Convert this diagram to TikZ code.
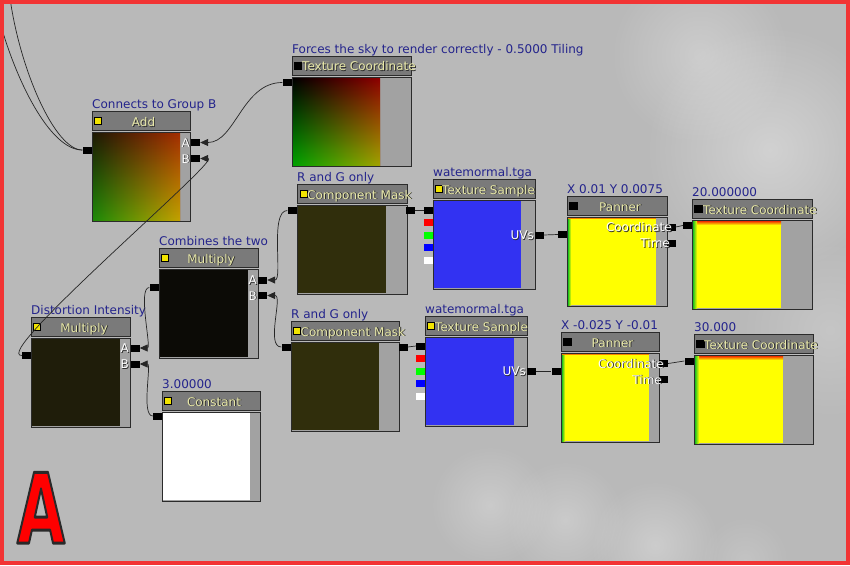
\documentclass[tikz,border=0pt]{standalone}
\usepackage{fontspec}
\usepackage{graphicx}
\setmainfont{DejaVu Sans}
\usetikzlibrary{arrows.meta,fadings,calc}
\definecolor{bg}{HTML}{B9B9B9}
\definecolor{framec}{HTML}{F23434}
\definecolor{edge}{HTML}{2B2B2B}
\definecolor{hdrc}{HTML}{7A7A7A}
\definecolor{strip}{HTML}{A2A2A2}
\definecolor{ttlc}{HTML}{24248C}
\definecolor{hdrt}{HTML}{E8E8A8}
\definecolor{ylw}{HTML}{F2E400}
\definecolor{olive}{HTML}{302E0C}
\definecolor{blkA}{HTML}{0C0B06}
\definecolor{blkB}{HTML}{1F1D0A}
\definecolor{tblue}{HTML}{3232F2}
\definecolor{addTL}{HTML}{1E1A04}
\definecolor{addTR}{HTML}{A42E02}
\definecolor{addBL}{HTML}{1E8A08}
\definecolor{addBR}{HTML}{C4A200}
\definecolor{tcTR}{HTML}{8E0000}
\definecolor{tcBL}{HTML}{00A200}
\definecolor{tcBR}{HTML}{A2A200}
\definecolor{pyel}{HTML}{FFFF00}
\definecolor{pgrn}{HTML}{20C020}
\definecolor{pred}{HTML}{F03000}
\definecolor{dk}{HTML}{2A2A2A}

\tikzfading[name=fadebot, top color=transparent!100, bottom color=transparent!0]
\tikzfading[name=blobfade, inner color=transparent!0, outer color=transparent!100]

\tikzset{
  every node/.style={font=\fontsize{12}{14}\selectfont},
  hdr/.style={draw=edge, fill=hdrc, line width=0.8pt, inner sep=0pt, minimum height=19pt, anchor=north west},
  bodyb/.style={draw=edge, fill=strip, line width=0.8pt, inner sep=0pt, minimum height=89pt, anchor=north west},
  ttl/.style={text=ttlc, inner sep=0pt, anchor=base west},
  sq/.style={draw=black, line width=0.5pt, minimum size=7.5pt, inner sep=0pt},
  port/.style={fill=black, minimum width=9pt, minimum height=7pt, inner sep=0pt},
  chan/.style={minimum width=9pt, minimum height=7pt, inner sep=0pt},
  lbltxt/.style={inner sep=0pt},
  wire/.style={draw=black!85, line width=0.7pt},
  arr/.style={wire, -{Triangle[length=8pt,width=7pt]}},
  blob/.style={fill=white, path fading=blobfade},
  bigA/.style={inner sep=0pt, anchor=base, font=\fontsize{97}{97}\selectfont\bfseries},
}

% #1 name, #2 x, #3 header top y, #4 width, #5 title, #6 square colour, #7 square x offset
\newcommand\uebox[7]{%
  \node[hdr, minimum width=#4pt] (#1-h) at (#2,#3) {};
  \node[bodyb, minimum width=#4pt] (#1-b) at (#2,#3+21) {};
  \node[ttl] (#1-t) at (#2,#3-2.5) {#5};
  \node[sq, fill=#6] (#1-s) at (#2+#7,#3+9.5) {};
}
% #1 name, #2 position, #3 anchor, #4 colour, #5 shadow colour, #6 text
\newcommand\shlbl[6]{%
  \node[lbltxt, anchor=#3, text=#5] (#1-sh) at ($#2+(0.9,0.9)$) {#6};
  \node[lbltxt, anchor=#3, text=#4] (#1) at #2 {#6};
}

\begin{document}
\begin{tikzpicture}[x=1pt, y=-1pt]
\useasboundingbox (0,0) rectangle (850,565);
\fill[bg] (0,0) rectangle (850,565);

% soft background shapes
\path[blob, opacity=0.35] (770,150) circle (125);
\path[blob, opacity=0.28] (700,55) circle (90);
\path[blob, opacity=0.18] (830,330) circle (90);
\path[blob, opacity=0.25] (490,505) circle (60);
\path[blob, opacity=0.25] (565,520) circle (60);
\path[blob, opacity=0.28] (655,545) circle (65);
\path[blob, opacity=0.15] (745,560) circle (45);

% node boxes
\uebox{add}{92}{111}{98}{Connects to Group B}{ylw}{5.5}
\uebox{tcT}{292}{56}{119}{Forces the sky to render correctly - 0.5000 Tiling}{black}{5.5}
\uebox{cmA}{297}{184}{110}{R and G only}{ylw}{6.5}
\uebox{tsA}{433}{179}{102}{watemormal.tga}{ylw}{5.5}
\uebox{pnA}{567}{196}{100}{X 0.01 Y 0.0075}{black}{6}
\uebox{tcA}{692}{199}{120}{20.000000}{black}{6}
\uebox{comb}{159}{248}{99}{Combines the two}{ylw}{5.5}
\uebox{dist}{31}{317}{99}{Distortion Intensity}{ylw}{5.5}
\uebox{cst}{162}{391}{98}{3.00000}{ylw}{5.5}
\uebox{cmB}{291}{321}{108}{R and G only}{ylw}{5.5}
\uebox{tsB}{425}{316}{102}{watemormal.tga}{ylw}{5.5}
\uebox{pnB}{561}{332}{98}{X -0.025 Y -0.01}{black}{6}
\uebox{tcB}{694}{334}{119}{30.000}{black}{6}

% previews
\shade[left color=addTL, right color=addTR] (93,133) rectangle (180,220);
\shade[left color=addBL, right color=addBR, path fading=fadebot] (93,133) rectangle (180,220);
\shade[left color=black, right color=tcTR] (293,78) rectangle (380,165);
\shade[left color=tcBL, right color=tcBR, path fading=fadebot] (293,78) rectangle (380,165);
\fill[olive] (298,206) rectangle (386,293);
\fill[tblue] (434,201) rectangle (521,288);
\fill[pyel] (568,218) rectangle (656,305);
\shade[left color=pgrn, right color=pyel] (568,218) rectangle (571,305);
\fill[pred!60!pyel] (568,218) rectangle (656,219.2);
\fill[pyel] (693,221) rectangle (781,308);
\shade[top color=pred, bottom color=pyel] (693,221) rectangle (781,225);
\shade[left color=pgrn, right color=pyel] (693,221) rectangle (697,308);
\fill[blkA] (160,270) rectangle (248,357);
\fill[blkB] (32,339) rectangle (120,426);
\fill[white] (163,413) rectangle (250,500);
\fill[olive] (292,343) rectangle (379,430);
\fill[tblue] (426,338) rectangle (514,425);
\fill[pyel] (562,354) rectangle (649,441);
\shade[left color=pgrn, right color=pyel] (562,354) rectangle (565,441);
\fill[pred!60!pyel] (562,354) rectangle (649,355.2);
\fill[pyel] (695,356) rectangle (783,443);
\shade[top color=pred, bottom color=pyel] (695,356) rectangle (783,360);
\shade[left color=pgrn, right color=pyel] (695,356) rectangle (699,443);

% header labels
\shlbl{addL}{(143.5,126.5)}{base}{hdrt}{dk}{Add}
\shlbl{tcTL}{(302,70.5)}{base west}{hdrt}{dk}{Texture Coordinate}
\shlbl{cmAL}{(307,199)}{base west}{hdrt}{dk}{Component Mask}
\shlbl{tsAL}{(442,194)}{base west}{hdrt}{dk}{Texture Sample}
\shlbl{pnAL}{(620,211)}{base}{hdrt}{dk}{Panner}
\shlbl{tcAL}{(703,214)}{base west}{hdrt}{dk}{Texture Coordinate}
\shlbl{combL}{(211,263)}{base}{hdrt}{dk}{Multiply}
\shlbl{distL}{(84,332)}{base}{hdrt}{dk}{Multiply}
\shlbl{cstL}{(214,406)}{base}{hdrt}{dk}{Constant}
\shlbl{cmBL}{(300.5,336)}{base west}{hdrt}{dk}{Component Mask}
\shlbl{tsBL}{(435,331)}{base west}{hdrt}{dk}{Texture Sample}
\shlbl{pnBL}{(612.5,347)}{base}{hdrt}{dk}{Panner}
\shlbl{tcBL}{(704,349)}{base west}{hdrt}{dk}{Texture Coordinate}

% ports
\node[port] (add-in) at (87,150) {};
\node[port] (add-A) at (195.5,142.5) {};
\node[port] (add-B) at (195.5,158.5) {};
\node[port] (tcT-in) at (287,82.5) {};
\node[port] (cmA-in) at (292,210.5) {};
\node[port] (cmA-out) at (410.5,210.5) {};
\node[port] (tsA-in) at (428.5,210.5) {};
\node[chan, fill=red] (tsA-r) at (428.5,222.5) {};
\node[chan, fill=green] (tsA-g) at (428.5,235) {};
\node[chan, fill=blue] (tsA-bl) at (428.5,247.5) {};
\node[chan, fill=white] (tsA-w) at (428.5,260) {};
\node[port] (tsA-uv) at (539,235) {};
\node[port] (pnA-in) at (562.5,234.5) {};
\node[port] (pnA-co) at (671,227) {};
\node[port] (pnA-ti) at (671,243) {};
\node[port] (tcA-in) at (687.5,225.5) {};
\node[port] (comb-in) at (154,287.5) {};
\node[port] (comb-A) at (262.5,280) {};
\node[port] (comb-B) at (262.5,295.5) {};
\node[port] (dist-in) at (26.5,355.5) {};
\node[port] (dist-A) at (135,348) {};
\node[port] (dist-B) at (135,364) {};
\node[port] (cst-in) at (157.5,416) {};
\node[port] (cmB-in) at (286,347) {};
\node[port] (cmB-out) at (403,347) {};
\node[port] (tsB-in) at (420.5,346) {};
\node[chan, fill=red] (tsB-r) at (420.5,358.5) {};
\node[chan, fill=green] (tsB-g) at (420.5,371) {};
\node[chan, fill=blue] (tsB-bl) at (420.5,383.5) {};
\node[chan, fill=white] (tsB-w) at (420.5,396) {};
\node[port] (tsB-uv) at (531,371) {};
\node[port] (pnB-in) at (556,371) {};
\node[port] (pnB-co) at (663.5,363.5) {};
\node[port] (pnB-ti) at (663.5,379.5) {};
\node[port] (tcB-in) at (689,361) {};

% port labels
\shlbl{addAL}{(190,147)}{base east}{white}{dk}{A}
\shlbl{addBL}{(190,163)}{base east}{white}{dk}{B}
\shlbl{combAL}{(257,284.5)}{base east}{white}{dk}{A}
\shlbl{combBL}{(257,300)}{base east}{white}{dk}{B}
\shlbl{distAL}{(129,352.5)}{base east}{white}{dk}{A}
\shlbl{distBL}{(129,368.5)}{base east}{white}{dk}{B}
\shlbl{tsAuvL}{(534,239.5)}{base east}{white}{dk}{UVs}
\shlbl{tsBuvL}{(526,375.5)}{base east}{white}{dk}{UVs}
\shlbl{pnAcoL}{(672,231.5)}{base east}{white}{dk}{Coordinate}
\shlbl{pnAtiL}{(670,247.5)}{base east}{white}{dk}{Time}
\shlbl{pnBcoL}{(664,368)}{base east}{white}{dk}{Coordinate}
\shlbl{pnBtiL}{(662,384)}{base east}{white}{dk}{Time}

% wires
\coordinate (offA) at (10,-2);
\coordinate (offB) at (-2,15);
\draw[wire] (add-in.west) .. controls (55,150) and (20,70) .. (offA);
\draw[wire] (add-in.west) .. controls (50,150) and (15,80) .. (offB);
\draw[arr] (tcT-in.west) .. controls +(-40,0) and +(35,0) .. (add-A.east);
\draw[arr] (dist-in.west) .. controls +(-32,0) and +(22,0) .. (add-B.east);
\draw[arr] (cmA-in.west) .. controls +(-18,0) and +(16,0) .. (comb-A.east);
\draw[arr] (cmB-in.west) .. controls +(-16,0) and +(16,0) .. (comb-B.east);
\draw[arr] (comb-in.west) .. controls +(-12,0) and +(12,0) .. (dist-A.east);
\draw[arr] (cst-in.west) .. controls +(-12,0) and +(12,0) .. (dist-B.east);
\draw[wire] (cmA-out.east) -- (tsA-in.west);
\draw[wire] (cmB-out.east) -- (tsB-in.west);
\draw[wire] (tsA-uv.east) -- (pnA-in.west);
\draw[wire] (tsB-uv.east) -- (pnB-in.west);
\draw[wire] (pnA-co.east) -- (tcA-in.west);
\draw[wire] (pnB-co.east) -- (tcB-in.west);

% big letter, red with dark outline (fill+stroke text mode)
\node[bigA, text=red] (Abig) at (41,543)
  {\special{pdf:literal direct 2 Tr 3 w 1 j 0.16 0.16 0.16 RG}\scalebox{0.64}[1]{A}\special{pdf:literal direct 0 Tr}};

% frame
\draw[framec, line width=4pt] (2,2) rectangle (848,563);
\end{tikzpicture}
\end{document}
